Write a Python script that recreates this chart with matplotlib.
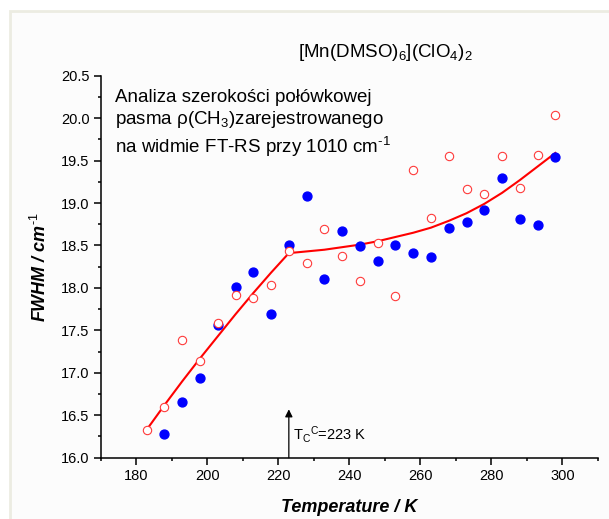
import numpy as np
import matplotlib
matplotlib.use('Agg')
import matplotlib.pyplot as plt
from matplotlib.patches import Rectangle

plt.rcParams['font.family'] = ['Liberation Sans', 'DejaVu Sans']
plt.rcParams['mathtext.fontset'] = 'custom'
plt.rcParams['mathtext.rm'] = 'Liberation Sans'
plt.rcParams['mathtext.it'] = 'Liberation Sans:italic'
plt.rcParams['mathtext.bf'] = 'Liberation Sans:bold'
plt.rcParams['mathtext.default'] = 'regular'

# data
T_open = [183, 188, 193, 198, 203, 208, 213, 218, 223, 228, 233, 238,
          243, 248, 253, 258, 263, 268, 273, 278, 283, 288, 293, 298]
fwhm_open = [16.33, 16.60, 17.39, 17.14, 17.59, 17.92, 17.88, 18.03, 18.43, 18.29, 18.69, 18.38,
             18.08, 18.53, 17.90, 19.39, 18.82, 19.55, 19.16, 19.11, 19.55, 19.18, 19.56, 20.04]

T_full = [188, 193, 198, 203, 208, 213, 218, 223, 228, 233, 238, 243,
          248, 253, 258, 263, 268, 273, 278, 283, 288, 293, 298]
fwhm_full = [16.28, 16.66, 16.94, 17.56, 18.01, 18.19, 17.69, 18.50, 19.08, 18.10, 18.67, 18.49,
             18.32, 18.50, 18.41, 18.36, 18.71, 18.78, 18.92, 19.29, 18.81, 18.74, 19.54]

# fitted line (read at 5 K steps)
T_fit = [183, 188, 193, 198, 203, 208, 213, 218, 223, 228, 233, 238, 243, 248,
         253, 258, 263, 268, 273, 278, 283, 288, 293, 298]
fwhm_fit = [16.33, 16.62, 16.90, 17.17, 17.43, 17.69, 17.94, 18.18, 18.41, 18.43, 18.45, 18.48, 18.51, 18.55,
            18.60, 18.65, 18.71, 18.79, 18.88, 18.99, 19.12, 19.27, 19.43, 19.59]

Tc = 223
Tc_arrow_top = 16.57

W, H = 609, 519
fig = plt.figure(figsize=(W/100, H/100), dpi=100)

# light frame round the picture
fig.patches.append(Rectangle((10/W, -0.1), 1.1, 1 - 11/H + 0.1, transform=fig.transFigure,
                             facecolor='#fcfcfc', edgecolor='#ecece2', lw=2, zorder=-5))

ax = fig.add_axes([100.5/W, 1 - 457.7/H, (598 - 100.5)/W, (457.7 - 75.7)/H])
ax.set_facecolor('none')
ax.set_zorder(2)

ax.plot(T_fit, fwhm_fit, color='#ff0000', lw=1.5, zorder=2)
ax.plot(T_full, fwhm_full, 'o', color='#0000ff', ms=6.4, mec='#0000ff', zorder=3)
ax.plot(T_open, fwhm_open, 'o', mfc='white', mec='#ff3b3b', mew=0.8, ms=6.0, zorder=4)

ax.annotate('', xy=(Tc, Tc_arrow_top), xytext=(Tc, 16.0),
            arrowprops=dict(arrowstyle='-|>', color='k', lw=0.9, mutation_scale=11,
                            shrinkA=0, shrinkB=0))
ax.text(224.2, 16.27, r'T$_{\rm C}$$^{\rm C}$=223 K', fontsize=10.5, va='center', ha='left')

ax.set_xlim(170, 310)
ax.set_ylim(16.0, 20.5)
ax.set_xticks(np.arange(180, 301, 20))
ax.set_xticks(np.arange(170, 311, 10), minor=True)
ax.set_yticks(np.arange(16.0, 20.51, 0.5))
ax.set_yticks(np.arange(16.0, 20.51, 0.25), minor=True)
ax.set_yticklabels(['%.1f' % v for v in np.arange(16.0, 20.51, 0.5)])

for s in ['top', 'right']:
    ax.spines[s].set_visible(False)
for s in ['left', 'bottom']:
    ax.spines[s].set_linewidth(1.1)

ax.tick_params(which='major', direction='out', length=5, width=1.1, labelsize=10.5, pad=3)
ax.tick_params(which='minor', direction='out', length=2.5, width=1.1)

fig.text(349/W, 1 - 507.7/H, 'Temperature / K', fontsize=13, fontweight='bold',
         fontstyle='italic', ha='center', va='center')
fig.text(40/W, 1 - 266.7/H, r'FWHM / cm$^{\text{-1}}$', fontsize=13, fontweight='bold',
         fontstyle='italic', ha='center', va='center', rotation=90)

fig.text(298/W, 1 - 57/H, r'[Mn(DMSO)$_6$](ClO$_4$)$_2$', fontsize=13.5, ha='left', va='baseline')

fig.text(115/W, 1 - 102/H, 'Analiza szerokości połówkowej', fontsize=13.5, ha='left', va='baseline')
fig.text(115/W, 1 - 124/H, r'pasma ρ(CH$_3$)zarejestrowanego', fontsize=13.5, ha='left', va='baseline')
fig.text(115/W, 1 - 153/H, r'na widmie FT-RS przy 1010 cm$^{\text{-1}}$', fontsize=13.5, ha='left', va='baseline')

fig.savefig('out.png', dpi=100)
